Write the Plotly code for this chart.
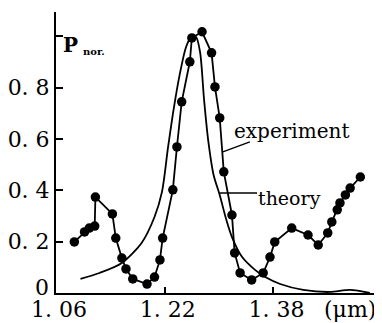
import plotly.graph_objects as go

# Experiment (dots joined by line)
exp_x = [1.087, 1.102, 1.109, 1.117, 1.118, 1.143, 1.148, 1.157, 1.163, 1.173,
         1.194, 1.205, 1.213, 1.217, 1.232, 1.238, 1.245, 1.257, 1.260, 1.275,
         1.289, 1.294, 1.301, 1.307, 1.319, 1.323, 1.331, 1.348, 1.365, 1.375,
         1.382, 1.407, 1.431, 1.446, 1.460, 1.466, 1.474, 1.478, 1.486, 1.493, 1.508]
exp_y = [0.199, 0.238, 0.253, 0.261, 0.374, 0.308, 0.214, 0.136, 0.094, 0.055,
         0.035, 0.062, 0.129, 0.214, 0.402, 0.569, 0.745, 0.901, 0.994, 1.018,
         0.936, 0.803, 0.682, 0.472, 0.304, 0.156, 0.078, 0.051, 0.078, 0.140,
         0.199, 0.253, 0.226, 0.187, 0.234, 0.277, 0.324, 0.351, 0.382, 0.409, 0.452]

# Theory (plain line)
th_x = [1.096, 1.124, 1.157, 1.186, 1.205, 1.216, 1.225, 1.233, 1.242, 1.251,
        1.258, 1.266, 1.272, 1.278, 1.284, 1.292, 1.301, 1.310, 1.319, 1.334,
        1.353, 1.368, 1.390, 1.424, 1.463, 1.493, 1.522]
th_y = [0.055, 0.078, 0.117, 0.195, 0.296, 0.394, 0.569, 0.713, 0.850, 0.955,
        0.994, 0.998, 0.940, 0.752, 0.596, 0.460, 0.382, 0.292, 0.218, 0.140,
        0.090, 0.062, 0.035, 0.012, 0.004, 0.012, 0.0]

x_ticks = [1.06, 1.22, 1.38]
x_labels = ["1. 06", "1. 22", "1. 38"]
y_ticks = [0, 0.2, 0.4, 0.6, 0.8, 1.0]
y_labels = ["", "0. 2", "0. 4", "0. 6", "0. 8", ""]
y_zero_label = "0"

font_fam = "DejaVu Serif"

fig = go.Figure()
fig.add_trace(go.Scatter(x=th_x, y=th_y, mode="lines",
                         line=dict(color="black", width=1.8, shape="spline", smoothing=0.8),
                         showlegend=False))
fig.add_trace(go.Scatter(x=exp_x, y=exp_y, mode="lines+markers",
                         line=dict(color="black", width=1.8),
                         marker=dict(color="black", size=9.5),
                         showlegend=False))

# leader lines
fig.add_shape(type="line", x0=1.3056, y0=0.550, x1=1.3454, y1=0.589,
              line=dict(color="black", width=1.5))
fig.add_shape(type="line", x0=1.3012, y0=0.390, x1=1.3560, y1=0.390,
              line=dict(color="black", width=1.5))

fig.add_annotation(x=1.407, y=0.632, text="experiment", showarrow=False,
                   xanchor="center", yanchor="middle",
                   font=dict(family=font_fam, size=20, color="black"))
fig.add_annotation(x=1.404, y=0.372, text="theory", showarrow=False,
                   xanchor="center", yanchor="middle",
                   font=dict(family=font_fam, size=19, color="black"))
fig.add_annotation(x=1.0814, y=0.967, text="<b>P</b>", showarrow=False,
                   xanchor="center", yanchor="middle",
                   font=dict(family=font_fam, size=20, color="black"))
fig.add_annotation(x=1.1153, y=0.94, text="<b>nor.</b>", showarrow=False,
                   xanchor="center", yanchor="middle",
                   font=dict(family=font_fam, size=10, color="black"))
fig.add_annotation(x=1.493, y=-0.057, xref="x", yref="paper", text="(μm)",
                   showarrow=False, xanchor="center", yanchor="middle",
                   font=dict(family=font_fam, size=22, color="black"))
fig.add_annotation(x=0, y=0, xref="paper", yref="y", text=y_zero_label,
                   showarrow=False, xanchor="right", yanchor="middle",
                   xshift=-5, yshift=6,
                   font=dict(family=font_fam, size=22, color="black"))

fig.update_xaxes(range=[1.06, 1.534], tickvals=x_ticks, ticktext=x_labels,
                 ticks="inside", ticklen=6, tickwidth=1.5, tickcolor="black",
                 showline=True, linecolor="black", linewidth=2,
                 showgrid=False, zeroline=False, automargin=False,
                 ticklabelstandoff=-4, ticklabelshift=3,
                 tickfont=dict(family=font_fam, size=22, color="black"))
fig.update_yaxes(range=[0, 1.095], tickvals=y_ticks, ticktext=y_labels,
                 ticks="inside", ticklen=7, tickwidth=1.5, tickcolor="black",
                 showline=True, linecolor="black", linewidth=2,
                 showgrid=False, zeroline=False, automargin=False,
                 tickfont=dict(family=font_fam, size=22, color="black"))

# the page body adds an 8 px offset, so the figure is drawn 8 px smaller
fig.update_layout(width=374, height=315,
                  margin=dict(l=48, r=4, t=4, b=30),
                  plot_bgcolor="white", paper_bgcolor="white")

fig.write_html("out.html")
